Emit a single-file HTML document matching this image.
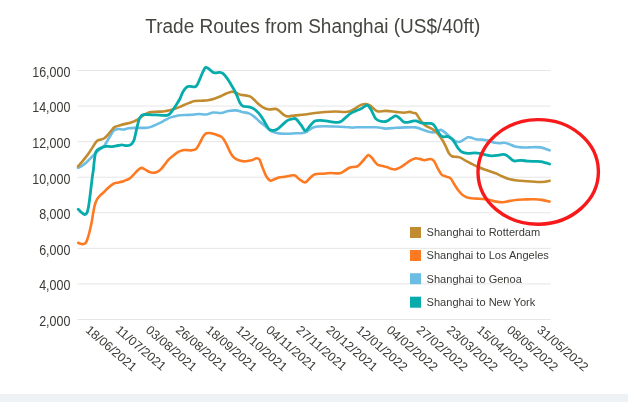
<!DOCTYPE html>
<html><head><meta charset="utf-8"><style>
html,body{margin:0;padding:0;background:#fff;width:628px;height:402px;overflow:hidden}
svg{display:block;will-change:transform}
text{font-family:"Liberation Sans",sans-serif}
.t{font-size:19px;fill:#46463f}
.yl{font-size:12.5px;fill:#3a3a36}
.xl{font-size:12.5px;fill:#3a3a36}
.lg{font-size:11.05px;fill:#3a3a36}
</style></head><body>
<svg width="628" height="402" viewBox="0 0 628 402">
<rect x="0" y="394" width="628" height="8" fill="#eef2f5"/>
<text transform="translate(312.8,32.7) scale(1,1.075)" text-anchor="middle" class="t">Trade Routes from Shanghai (US$/40ft)</text>
<line x1="77.5" y1="70.50" x2="550.7" y2="70.50" stroke="#e6e6e6" stroke-width="1"/>
<line x1="77.5" y1="106.07" x2="550.7" y2="106.07" stroke="#e6e6e6" stroke-width="1"/>
<line x1="77.5" y1="141.64" x2="550.7" y2="141.64" stroke="#e6e6e6" stroke-width="1"/>
<line x1="77.5" y1="177.21" x2="550.7" y2="177.21" stroke="#e6e6e6" stroke-width="1"/>
<line x1="77.5" y1="212.79" x2="550.7" y2="212.79" stroke="#e6e6e6" stroke-width="1"/>
<line x1="77.5" y1="248.36" x2="550.7" y2="248.36" stroke="#e6e6e6" stroke-width="1"/>
<line x1="77.5" y1="283.93" x2="550.7" y2="283.93" stroke="#e6e6e6" stroke-width="1"/>
<line x1="77.5" y1="319.50" x2="550.7" y2="319.50" stroke="#e6e6e6" stroke-width="1"/>
<text transform="translate(70.4,76.90) scale(1,1.1)" text-anchor="end" class="yl">16,000</text>
<text transform="translate(70.4,112.47) scale(1,1.1)" text-anchor="end" class="yl">14,000</text>
<text transform="translate(70.4,148.04) scale(1,1.1)" text-anchor="end" class="yl">12,000</text>
<text transform="translate(70.4,183.61) scale(1,1.1)" text-anchor="end" class="yl">10,000</text>
<text transform="translate(70.4,219.19) scale(1,1.1)" text-anchor="end" class="yl">8,000</text>
<text transform="translate(70.4,254.76) scale(1,1.1)" text-anchor="end" class="yl">6,000</text>
<text transform="translate(70.4,290.33) scale(1,1.1)" text-anchor="end" class="yl">4,000</text>
<text transform="translate(70.4,325.90) scale(1,1.1)" text-anchor="end" class="yl">2,000</text>
<text transform="translate(84.70,331.2) rotate(40.6)" class="xl">18/06/2021</text>
<text transform="translate(114.80,331.2) rotate(40.6)" class="xl">11/07/2021</text>
<text transform="translate(144.90,331.2) rotate(40.6)" class="xl">03/08/2021</text>
<text transform="translate(175.00,331.2) rotate(40.6)" class="xl">26/08/2021</text>
<text transform="translate(205.10,331.2) rotate(40.6)" class="xl">18/09/2021</text>
<text transform="translate(235.20,331.2) rotate(40.6)" class="xl">12/10/2021</text>
<text transform="translate(265.30,331.2) rotate(40.6)" class="xl">04/11/2021</text>
<text transform="translate(295.40,331.2) rotate(40.6)" class="xl">27/11/2021</text>
<text transform="translate(325.50,331.2) rotate(40.6)" class="xl">20/12/2021</text>
<text transform="translate(355.60,331.2) rotate(40.6)" class="xl">12/01/2022</text>
<text transform="translate(385.70,331.2) rotate(40.6)" class="xl">04/02/2022</text>
<text transform="translate(415.80,331.2) rotate(40.6)" class="xl">27/02/2022</text>
<text transform="translate(445.90,331.2) rotate(40.6)" class="xl">23/03/2022</text>
<text transform="translate(476.00,331.2) rotate(40.6)" class="xl">15/04/2022</text>
<text transform="translate(506.10,331.2) rotate(40.6)" class="xl">08/05/2022</text>
<text transform="translate(536.20,331.2) rotate(40.6)" class="xl">31/05/2022</text>
<path d="M78.20,242.80 C78.58,242.97 79.62,243.60 80.50,243.80 C81.38,244.00 82.63,244.17 83.50,244.00 C84.37,243.83 85.08,243.50 85.70,242.80 C86.32,242.10 86.58,241.55 87.20,239.80 C87.82,238.05 88.65,235.28 89.40,232.30 C90.15,229.32 91.07,225.13 91.70,221.90 C92.33,218.67 92.70,215.65 93.20,212.90 C93.70,210.15 94.08,207.63 94.70,205.40 C95.32,203.17 96.03,201.12 96.90,199.50 C97.77,197.88 98.80,196.87 99.90,195.70 C101.00,194.53 102.07,193.87 103.50,192.50 C104.93,191.13 106.83,188.96 108.50,187.50 C110.17,186.04 111.83,184.58 113.50,183.75 C115.17,182.92 116.83,182.92 118.50,182.50 C120.17,182.08 122.00,181.75 123.50,181.25 C125.00,180.75 126.42,179.99 127.50,179.50 C128.58,179.01 128.92,179.17 130.00,178.30 C131.08,177.43 132.67,175.70 134.00,174.30 C135.33,172.90 136.77,170.97 138.00,169.90 C139.23,168.83 140.25,167.98 141.40,167.90 C142.55,167.82 143.65,168.75 144.90,169.40 C146.15,170.05 147.57,171.23 148.90,171.80 C150.23,172.37 151.57,172.77 152.90,172.80 C154.23,172.83 155.58,172.57 156.90,172.00 C158.22,171.43 159.48,170.67 160.80,169.40 C162.12,168.13 163.47,166.07 164.80,164.40 C166.13,162.73 167.47,160.82 168.80,159.40 C170.13,157.98 171.47,156.98 172.80,155.90 C174.13,154.82 175.48,153.73 176.80,152.90 C178.12,152.07 179.38,151.38 180.70,150.90 C182.02,150.42 183.40,150.12 184.70,150.00 C186.00,149.88 187.45,150.13 188.50,150.20 C189.55,150.27 189.75,150.62 191.00,150.40 C192.25,150.18 194.52,150.15 196.00,148.90 C197.48,147.65 198.75,144.90 199.90,142.90 C201.05,140.90 201.90,138.47 202.90,136.90 C203.90,135.33 204.73,134.15 205.90,133.50 C207.07,132.85 208.23,132.83 209.90,133.00 C211.57,133.17 214.08,133.93 215.90,134.50 C217.72,135.07 219.48,135.58 220.80,136.40 C222.12,137.22 222.80,137.98 223.80,139.40 C224.80,140.82 225.80,142.90 226.80,144.90 C227.80,146.90 228.80,149.50 229.80,151.40 C230.80,153.30 231.65,154.98 232.80,156.30 C233.95,157.62 235.22,158.52 236.70,159.30 C238.18,160.08 240.20,160.67 241.70,161.00 C243.20,161.33 243.90,161.47 245.70,161.30 C247.50,161.13 250.74,160.51 252.50,160.00 C254.26,159.49 255.08,158.33 256.25,158.25 C257.42,158.17 258.46,157.96 259.50,159.50 C260.54,161.04 261.38,164.71 262.50,167.50 C263.62,170.29 265.00,174.08 266.25,176.25 C267.50,178.42 268.75,179.96 270.00,180.50 C271.25,181.04 272.29,180.00 273.75,179.50 C275.21,179.00 276.88,177.96 278.75,177.50 C280.62,177.04 283.12,177.04 285.00,176.75 C286.88,176.46 288.33,175.96 290.00,175.75 C291.67,175.54 293.54,175.00 295.00,175.50 C296.46,176.00 297.08,177.58 298.75,178.75 C300.42,179.92 303.12,182.62 305.00,182.50 C306.88,182.38 308.33,179.38 310.00,178.00 C311.67,176.62 312.92,174.96 315.00,174.25 C317.08,173.54 320.00,173.96 322.50,173.75 C325.00,173.54 327.08,173.08 330.00,173.00 C332.92,172.92 337.50,173.67 340.00,173.25 C342.50,172.83 343.33,171.46 345.00,170.50 C346.67,169.54 347.92,168.21 350.00,167.50 C352.08,166.79 355.42,167.29 357.50,166.25 C359.58,165.21 360.83,163.04 362.50,161.25 C364.17,159.46 366.33,156.44 367.50,155.50 C368.67,154.56 368.75,155.20 369.50,155.60 C370.25,156.00 371.08,156.85 372.00,157.90 C372.92,158.95 374.02,160.73 375.00,161.90 C375.98,163.07 376.58,164.20 377.90,164.90 C379.22,165.60 381.40,165.73 382.90,166.10 C384.40,166.47 385.57,166.67 386.90,167.10 C388.23,167.53 389.48,168.32 390.90,168.70 C392.32,169.08 393.92,169.57 395.40,169.40 C396.88,169.23 398.23,168.53 399.80,167.70 C401.37,166.87 403.13,165.53 404.80,164.40 C406.47,163.27 408.13,161.90 409.80,160.90 C411.47,159.90 413.15,158.73 414.80,158.40 C416.45,158.07 418.08,158.60 419.70,158.90 C421.32,159.20 422.72,160.18 424.50,160.20 C426.28,160.22 428.78,158.83 430.40,159.00 C432.02,159.17 432.95,159.58 434.20,161.20 C435.45,162.82 436.67,166.47 437.90,168.70 C439.13,170.93 440.23,173.28 441.60,174.60 C442.97,175.92 444.60,175.97 446.10,176.60 C447.60,177.23 449.23,177.12 450.60,178.40 C451.97,179.68 452.93,182.20 454.30,184.30 C455.67,186.40 457.30,189.13 458.80,191.00 C460.30,192.87 461.55,194.32 463.30,195.50 C465.05,196.68 467.07,197.58 469.30,198.10 C471.53,198.62 474.08,198.42 476.70,198.60 C479.32,198.78 482.78,198.98 485.00,199.20 C487.22,199.42 488.17,199.50 490.00,199.90 C491.83,200.30 493.85,201.20 496.00,201.60 C498.15,202.00 500.58,202.42 502.90,202.30 C505.22,202.18 507.40,201.33 509.90,200.90 C512.40,200.47 515.25,199.95 517.90,199.70 C520.55,199.45 523.15,199.47 525.80,199.40 C528.45,199.33 531.15,199.22 533.80,199.30 C536.45,199.38 539.07,199.52 541.70,199.90 C544.33,200.28 548.28,201.32 549.60,201.60" fill="none" stroke="#fd7a22" stroke-width="2.6" stroke-linejoin="round" stroke-linecap="round"/>
<path d="M78.00,167.80 C78.67,167.47 80.67,166.63 82.00,165.80 C83.33,164.97 84.68,163.95 86.00,162.80 C87.32,161.65 88.58,160.22 89.90,158.90 C91.22,157.58 92.57,156.23 93.90,154.90 C95.23,153.57 96.57,152.07 97.90,150.90 C99.23,149.73 100.73,148.90 101.90,147.90 C103.07,146.90 103.92,146.22 104.90,144.90 C105.88,143.58 106.82,141.65 107.80,140.00 C108.78,138.35 109.88,136.50 110.80,135.00 C111.72,133.50 112.43,131.92 113.30,131.00 C114.17,130.08 115.05,129.83 116.00,129.50 C116.95,129.17 117.75,129.00 119.00,129.00 C120.25,129.00 121.92,129.62 123.50,129.50 C125.08,129.38 126.42,128.57 128.50,128.30 C130.58,128.03 133.50,127.97 136.00,127.90 C138.50,127.83 141.42,127.95 143.50,127.90 C145.58,127.85 146.92,127.92 148.50,127.60 C150.08,127.28 151.08,126.80 153.00,126.00 C154.92,125.20 158.00,123.77 160.00,122.80 C162.00,121.83 163.33,121.07 165.00,120.20 C166.67,119.33 168.33,118.27 170.00,117.60 C171.67,116.93 173.33,116.60 175.00,116.20 C176.67,115.80 177.50,115.42 180.00,115.20 C182.50,114.98 186.92,115.10 190.00,114.90 C193.08,114.70 195.83,114.07 198.50,114.00 C201.17,113.93 203.50,114.75 206.00,114.50 C208.50,114.25 211.00,112.75 213.50,112.50 C216.00,112.25 218.50,113.25 221.00,113.00 C223.50,112.75 226.00,111.43 228.50,111.00 C231.00,110.57 233.75,110.25 236.00,110.40 C238.25,110.55 239.85,111.40 242.00,111.90 C244.15,112.40 246.92,112.65 248.90,113.40 C250.88,114.15 252.23,115.15 253.90,116.40 C255.57,117.65 257.07,119.33 258.90,120.90 C260.73,122.47 262.92,124.15 264.90,125.80 C266.88,127.45 268.65,129.55 270.80,130.80 C272.95,132.05 275.30,132.80 277.80,133.30 C280.30,133.80 282.82,133.80 285.80,133.80 C288.78,133.80 292.92,133.43 295.70,133.30 C298.48,133.17 300.53,133.34 302.50,133.00 C304.47,132.66 305.83,132.12 307.50,131.25 C309.17,130.38 310.83,128.59 312.50,127.80 C314.17,127.01 315.42,126.76 317.50,126.50 C319.58,126.24 322.08,126.25 325.00,126.25 C327.92,126.25 331.67,126.38 335.00,126.50 C338.33,126.62 342.08,126.82 345.00,127.00 C347.92,127.18 350.67,127.55 352.50,127.60 C354.33,127.65 352.10,127.35 356.00,127.30 C359.90,127.25 370.92,127.08 375.90,127.30 C380.88,127.52 382.58,128.52 385.90,128.60 C389.22,128.68 392.62,128.00 395.80,127.80 C398.98,127.60 401.68,127.47 405.00,127.40 C408.32,127.33 412.87,127.07 415.70,127.40 C418.53,127.73 419.97,128.73 422.00,129.40 C424.03,130.07 426.08,130.90 427.90,131.40 C429.72,131.90 431.40,132.48 432.90,132.40 C434.40,132.32 435.57,131.32 436.90,130.90 C438.23,130.48 439.57,129.65 440.90,129.90 C442.23,130.15 443.42,131.25 444.90,132.40 C446.38,133.55 448.15,135.40 449.80,136.80 C451.45,138.20 453.30,139.93 454.80,140.80 C456.30,141.67 457.47,142.08 458.80,142.00 C460.13,141.92 461.32,141.08 462.80,140.30 C464.28,139.52 466.22,137.72 467.70,137.30 C469.18,136.88 470.37,137.48 471.70,137.80 C473.03,138.12 474.02,138.90 475.70,139.20 C477.38,139.50 479.78,139.38 481.80,139.60 C483.82,139.82 485.82,140.02 487.80,140.50 C489.78,140.98 491.72,142.03 493.70,142.50 C495.68,142.97 497.98,143.25 499.70,143.30 C501.42,143.35 502.47,142.68 504.00,142.80 C505.53,142.92 507.08,143.40 508.90,144.00 C510.72,144.60 512.73,145.83 514.90,146.40 C517.07,146.97 519.58,147.23 521.90,147.40 C524.22,147.57 526.48,147.45 528.80,147.40 C531.12,147.35 533.80,147.10 535.80,147.10 C537.80,147.10 539.13,147.10 540.80,147.40 C542.47,147.70 544.33,148.42 545.80,148.90 C547.27,149.38 548.97,150.07 549.60,150.30" fill="none" stroke="#6bbde3" stroke-width="2.6" stroke-linejoin="round" stroke-linecap="round"/>
<path d="M78.00,166.30 C78.67,165.55 80.67,163.37 82.00,161.80 C83.33,160.23 84.68,158.63 86.00,156.90 C87.32,155.17 88.75,153.07 89.90,151.40 C91.05,149.73 91.98,148.32 92.90,146.90 C93.82,145.48 94.57,143.98 95.40,142.90 C96.23,141.82 96.98,140.97 97.90,140.40 C98.82,139.83 99.90,139.82 100.90,139.50 C101.90,139.18 102.92,139.08 103.90,138.50 C104.88,137.92 105.82,137.00 106.80,136.00 C107.78,135.00 108.97,133.50 109.80,132.50 C110.63,131.50 110.97,130.92 111.80,130.00 C112.62,129.08 113.22,127.83 114.75,127.00 C116.28,126.17 118.29,125.75 121.00,125.00 C123.71,124.25 128.83,123.10 131.00,122.50 C133.17,121.90 132.83,121.92 134.00,121.40 C135.17,120.88 136.68,120.23 138.00,119.40 C139.32,118.57 140.42,117.40 141.90,116.40 C143.38,115.40 145.40,114.12 146.90,113.40 C148.40,112.68 149.40,112.38 150.90,112.10 C152.40,111.82 154.22,111.78 155.90,111.70 C157.58,111.62 159.32,111.72 161.00,111.60 C162.68,111.48 164.50,111.22 166.00,111.00 C167.50,110.78 168.50,110.67 170.00,110.30 C171.50,109.93 173.35,109.37 175.00,108.80 C176.65,108.23 178.40,107.53 179.90,106.90 C181.40,106.27 182.67,105.58 184.00,105.00 C185.33,104.42 186.65,103.90 187.90,103.40 C189.15,102.90 190.35,102.40 191.50,102.00 C192.65,101.60 193.08,101.22 194.80,101.00 C196.52,100.78 199.60,100.83 201.80,100.70 C204.00,100.57 205.92,100.53 208.00,100.20 C210.08,99.87 212.18,99.35 214.30,98.70 C216.42,98.05 218.70,97.17 220.70,96.30 C222.70,95.43 224.45,94.27 226.30,93.50 C228.15,92.73 230.22,91.83 231.80,91.70 C233.38,91.57 234.33,92.20 235.80,92.70 C237.27,93.20 239.00,94.25 240.60,94.70 C242.20,95.15 243.83,95.12 245.40,95.40 C246.97,95.68 248.58,95.72 250.00,96.40 C251.42,97.08 252.58,98.32 253.90,99.50 C255.22,100.68 256.40,102.18 257.90,103.50 C259.40,104.82 261.08,106.42 262.90,107.40 C264.72,108.38 266.65,109.15 268.80,109.40 C270.95,109.65 273.97,108.57 275.80,108.90 C277.63,109.23 278.47,110.40 279.80,111.40 C281.13,112.40 282.48,114.07 283.80,114.90 C285.12,115.73 286.38,116.23 287.70,116.40 C289.02,116.57 290.37,116.07 291.70,115.90 C293.03,115.73 293.48,115.63 295.70,115.40 C297.92,115.17 301.78,114.90 305.00,114.50 C308.22,114.10 311.67,113.42 315.00,113.00 C318.33,112.58 321.67,112.25 325.00,112.00 C328.33,111.75 331.67,111.50 335.00,111.50 C338.33,111.50 342.50,112.04 345.00,112.00 C347.50,111.96 348.17,111.93 350.00,111.25 C351.83,110.57 354.17,108.96 356.00,107.90 C357.83,106.84 359.33,105.55 361.00,104.90 C362.67,104.25 364.52,103.92 366.00,104.00 C367.48,104.08 368.58,104.58 369.90,105.40 C371.22,106.22 372.57,107.90 373.90,108.90 C375.23,109.90 375.90,111.07 377.90,111.40 C379.90,111.73 382.92,110.82 385.90,110.90 C388.88,110.98 392.82,111.60 395.80,111.90 C398.78,112.20 401.48,112.70 403.80,112.70 C406.12,112.70 408.08,111.85 409.70,111.90 C411.32,111.95 412.45,112.73 413.50,113.00 C414.55,113.27 415.08,112.68 416.00,113.50 C416.92,114.32 418.00,116.42 419.00,117.90 C420.00,119.38 420.83,121.07 422.00,122.40 C423.17,123.73 424.52,124.90 426.00,125.90 C427.48,126.90 429.42,127.57 430.90,128.40 C432.38,129.23 433.73,129.98 434.90,130.90 C436.07,131.82 436.90,132.75 437.90,133.90 C438.90,135.05 440.00,136.53 440.90,137.80 C441.80,139.07 442.45,139.98 443.30,141.50 C444.15,143.02 445.05,144.92 446.00,146.90 C446.95,148.88 448.02,151.85 449.00,153.40 C449.98,154.95 450.58,155.62 451.90,156.20 C453.22,156.78 455.40,156.62 456.90,156.90 C458.40,157.18 459.40,157.23 460.90,157.90 C462.40,158.57 464.08,159.90 465.90,160.90 C467.72,161.90 469.82,162.92 471.80,163.90 C473.78,164.88 475.80,165.90 477.80,166.80 C479.80,167.70 481.80,168.55 483.80,169.30 C485.80,170.05 487.82,170.63 489.80,171.30 C491.78,171.97 493.58,172.43 495.70,173.30 C497.82,174.17 500.12,175.50 502.50,176.50 C504.88,177.50 507.50,178.63 510.00,179.30 C512.50,179.97 514.58,180.18 517.50,180.50 C520.42,180.82 524.17,181.00 527.50,181.25 C530.83,181.50 534.62,181.92 537.50,182.00 C540.38,182.08 542.73,181.95 544.75,181.75 C546.77,181.55 548.79,180.96 549.60,180.80" fill="none" stroke="#c18c30" stroke-width="2.6" stroke-linejoin="round" stroke-linecap="round"/>
<path d="M78.20,209.20 C78.70,209.70 80.20,211.33 81.20,212.20 C82.20,213.07 83.33,214.15 84.20,214.40 C85.07,214.65 85.78,214.45 86.40,213.70 C87.02,212.95 87.40,212.02 87.90,209.90 C88.40,207.78 88.68,206.40 89.40,201.00 C90.12,195.60 91.58,182.70 92.25,177.50 C92.92,172.30 93.04,172.73 93.40,169.80 C93.76,166.87 93.98,162.88 94.40,159.90 C94.82,156.92 94.98,153.82 95.90,151.90 C96.82,149.98 98.23,149.32 99.90,148.40 C101.57,147.48 104.22,146.70 105.90,146.40 C107.58,146.10 108.68,146.60 110.00,146.60 C111.32,146.60 112.47,146.58 113.80,146.40 C115.13,146.22 116.67,145.75 118.00,145.50 C119.33,145.25 120.63,144.90 121.80,144.90 C122.97,144.90 124.02,145.37 125.00,145.50 C125.98,145.63 126.87,145.78 127.70,145.70 C128.53,145.62 129.33,145.30 130.00,145.00 C130.67,144.70 131.00,144.82 131.70,143.90 C132.40,142.98 133.28,142.40 134.20,139.50 C135.12,136.60 136.33,129.95 137.20,126.50 C138.07,123.05 138.68,120.62 139.40,118.80 C140.12,116.98 140.82,116.30 141.50,115.60 C142.18,114.90 142.43,114.77 143.50,114.60 C144.57,114.43 145.83,114.55 147.90,114.60 C149.97,114.65 153.42,114.77 155.90,114.90 C158.38,115.03 160.98,115.32 162.80,115.40 C164.62,115.48 165.63,115.65 166.80,115.40 C167.97,115.15 168.80,114.80 169.80,113.90 C170.80,113.00 171.63,111.65 172.80,110.00 C173.97,108.35 175.63,105.83 176.80,104.00 C177.97,102.17 178.77,101.03 179.80,99.00 C180.83,96.97 181.80,93.82 183.00,91.80 C184.20,89.78 185.83,87.80 187.00,86.90 C188.17,86.00 188.68,86.40 190.00,86.40 C191.32,86.40 193.67,87.23 194.90,86.90 C196.13,86.57 196.57,85.73 197.40,84.40 C198.23,83.07 198.98,80.98 199.90,78.90 C200.82,76.82 201.98,73.80 202.90,71.90 C203.82,70.00 204.48,68.07 205.40,67.50 C206.32,66.93 207.33,67.85 208.40,68.50 C209.47,69.15 210.73,70.67 211.80,71.40 C212.87,72.13 213.47,72.73 214.80,72.90 C216.13,73.07 218.47,72.32 219.80,72.40 C221.13,72.48 221.63,72.48 222.80,73.40 C223.97,74.32 225.48,76.15 226.80,77.90 C228.12,79.65 229.38,81.75 230.70,83.90 C232.02,86.05 233.57,88.62 234.70,90.80 C235.83,92.98 236.62,94.97 237.50,97.00 C238.38,99.03 239.08,101.47 240.00,103.00 C240.92,104.53 241.52,105.55 243.00,106.20 C244.48,106.85 247.08,106.45 248.90,106.90 C250.72,107.35 252.23,107.82 253.90,108.90 C255.57,109.98 257.40,111.73 258.90,113.40 C260.40,115.07 261.58,116.83 262.90,118.90 C264.22,120.97 265.65,123.98 266.80,125.80 C267.95,127.62 268.63,129.05 269.80,129.80 C270.97,130.55 272.47,130.47 273.80,130.30 C275.13,130.13 276.30,129.78 277.80,128.80 C279.30,127.82 281.15,125.80 282.80,124.40 C284.45,123.00 286.05,121.32 287.70,120.40 C289.35,119.48 291.32,119.13 292.70,118.90 C294.08,118.67 294.62,118.00 296.00,119.00 C297.38,120.00 299.42,122.93 301.00,124.90 C302.58,126.87 304.00,130.65 305.50,130.80 C307.00,130.95 308.43,127.42 310.00,125.80 C311.57,124.18 313.08,122.00 314.90,121.10 C316.72,120.20 318.58,120.35 320.90,120.40 C323.22,120.45 325.98,121.07 328.80,121.40 C331.62,121.73 335.63,122.48 337.80,122.40 C339.97,122.32 340.47,121.73 341.80,120.90 C343.13,120.07 344.32,118.65 345.80,117.40 C347.28,116.15 349.05,114.48 350.70,113.40 C352.35,112.32 354.07,111.63 355.70,110.90 C357.33,110.17 359.03,109.73 360.50,109.00 C361.97,108.27 363.33,107.12 364.50,106.50 C365.67,105.88 366.38,104.72 367.50,105.30 C368.62,105.88 369.85,107.73 371.25,110.00 C372.65,112.27 374.12,117.00 375.90,118.90 C377.67,120.80 380.08,121.03 381.90,121.40 C383.72,121.77 385.15,121.68 386.80,121.10 C388.45,120.52 390.30,118.77 391.80,117.90 C393.30,117.03 394.47,115.82 395.80,115.90 C397.13,115.98 398.47,117.40 399.80,118.40 C401.13,119.40 402.48,121.23 403.80,121.90 C405.12,122.57 406.22,122.53 407.70,122.40 C409.18,122.27 411.32,121.35 412.70,121.10 C414.08,120.85 414.62,120.60 416.00,120.90 C417.38,121.20 419.33,122.48 421.00,122.90 C422.67,123.32 424.35,123.32 426.00,123.40 C427.65,123.48 429.58,123.13 430.90,123.40 C432.22,123.67 432.90,123.92 433.90,125.00 C434.90,126.08 435.73,128.10 436.90,129.90 C438.07,131.70 439.73,134.65 440.90,135.80 C442.07,136.95 442.72,136.67 443.90,136.80 C445.08,136.93 446.67,136.23 448.00,136.60 C449.33,136.97 450.75,137.93 451.90,139.00 C453.05,140.07 453.90,141.52 454.90,143.00 C455.90,144.48 456.73,146.42 457.90,147.90 C459.07,149.38 460.23,150.98 461.90,151.90 C463.57,152.82 465.75,153.23 467.90,153.40 C470.05,153.57 472.82,152.90 474.80,152.90 C476.78,152.90 477.97,153.07 479.80,153.40 C481.63,153.73 483.82,154.48 485.80,154.90 C487.78,155.32 489.72,155.82 491.70,155.90 C493.68,155.98 495.82,155.65 497.70,155.40 C499.58,155.15 501.62,154.48 503.00,154.40 C504.38,154.32 504.85,154.32 506.00,154.90 C507.15,155.48 508.58,156.90 509.90,157.90 C511.22,158.90 512.07,160.48 513.90,160.90 C515.73,161.32 518.58,160.37 520.90,160.40 C523.22,160.43 525.32,160.93 527.80,161.10 C530.28,161.27 533.63,161.30 535.80,161.40 C537.97,161.50 539.13,161.45 540.80,161.70 C542.47,161.95 544.33,162.52 545.80,162.90 C547.27,163.28 548.97,163.82 549.60,164.00" fill="none" stroke="#06abab" stroke-width="2.8" stroke-linejoin="round" stroke-linecap="round"/>
<rect x="410" y="227" width="11" height="11" fill="#c18c30"/>
<text x="426.6" y="236.00" class="lg">Shanghai to Rotterdam</text>
<rect x="410" y="250" width="11" height="11" fill="#fd7a22"/>
<text x="426.6" y="259.00" class="lg">Shanghai to Los Angeles</text>
<rect x="410" y="273.2" width="11" height="11" fill="#6bbde3"/>
<text x="426.6" y="282.70" class="lg">Shanghai to Genoa</text>
<rect x="410" y="296.7" width="11" height="11" fill="#06abab"/>
<text x="426.6" y="306.10" class="lg">Shanghai to New York</text>
<ellipse cx="538.2" cy="171.9" rx="60.2" ry="52.3" transform="rotate(-1 538.2 171.9)" fill="none" stroke="#f81a1a" stroke-width="3.4"/>
</svg>
</body></html>
